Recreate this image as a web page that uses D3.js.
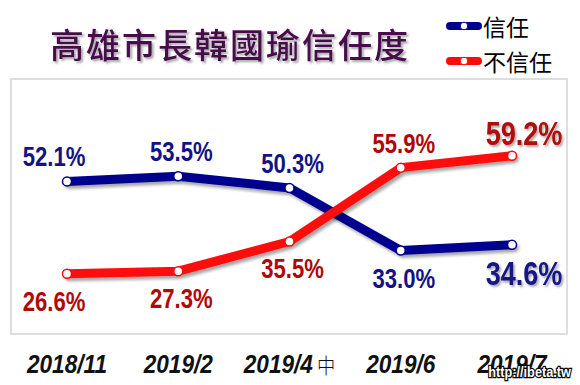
<!DOCTYPE html>
<html>
<head>
<meta charset="utf-8">
<script src="https://cdn.jsdelivr.net/npm/d3@7"></script>
<style>
  body { margin: 0; background: #fff; }
  svg { display: block; }
</style>
</head>
<body>
<div id="vis"></div>
<script>
var w = 580,
    h = 385;

// data
var categories = ["2018/11", "2019/2", "2019/4", "2019/6", "2019/7"];
var catSuffix = ["", "", " 中", "", ""];
var trust = [52.1, 53.5, 50.3, 33.0, 34.6];
var distrust = [26.6, 27.3, 35.5, 55.9, 59.2];
var seriesNames = ["信任", "不信任"];
var title = "高雄市長韓國瑜信任度";

var blue = "#00008f", red = "#ff0a0a";
var blueText = "#131385", redText = "#b00808";
// no narrow face installed, so squeeze Liberation Sans horizontally
var numFont = "'Liberation Sans', Arial, sans-serif";
var squeeze = 0.82;

var svg = d3.select("#vis").append("svg")
    .attr("width", w)
    .attr("height", h);

var defs = svg.append("defs");
var f = defs.append("filter").attr("id", "shadow")
    .attr("x", "-10%").attr("y", "-30%").attr("width", "130%").attr("height", "180%");
f.append("feDropShadow").attr("dx", 2.5).attr("dy", 3).attr("stdDeviation", 1.6)
    .attr("flood-color", "#000").attr("flood-opacity", 0.35);
var ft = defs.append("filter").attr("id", "tshadow");
ft.append("feDropShadow").attr("dx", 2).attr("dy", 2).attr("stdDeviation", 1.2)
    .attr("flood-color", "#000").attr("flood-opacity", 0.35);

// frame
svg.append("rect")
    .attr("x", 11).attr("y", 79)
    .attr("width", 556).attr("height", 255)
    .attr("fill", "#fff")
    .attr("stroke", "#d4d4d4")
    .attr("stroke-width", 1.5);

// title
svg.append("text")
    .attr("x", 50).attr("y", 58)
    .attr("font-family", "'Noto Sans CJK TC', 'Noto Sans CJK SC', sans-serif")
    .attr("font-size", 34)
    .attr("font-weight", 500)
    .attr("letter-spacing", 2)
    .attr("fill", "#47104c")
    .attr("filter", "url(#tshadow)")
    .text(title);

var x = d3.scalePoint().domain(categories).range([67, 512]);
var y = d3.scaleLinear().domain([0, 100]).range([370, 8]);

var line = d3.line()
    .x(function(d, i){ return x(categories[i]); })
    .y(function(d){ return y(d); });

var series = [
    {name: seriesNames[0], values: trust, other: distrust, color: blue, text: blueText},
    {name: seriesNames[1], values: distrust, other: trust, color: red, text: redText}
];

var g = svg.append("g");

series.forEach(function(s){
    g.append("path")
        .datum(s.values)
        .attr("d", line)
        .attr("fill", "none")
        .attr("stroke", s.color)
        .attr("stroke-width", 9)
        .attr("stroke-linejoin", "round")
        .attr("stroke-linecap", "round")
        .attr("filter", "url(#shadow)");
});

series.forEach(function(s){
    g.selectAll(null)
        .data(s.values)
        .enter().append("circle")
        .attr("cx", function(d, i){ return x(categories[i]); })
        .attr("cy", function(d){ return y(d); })
        .attr("r", 4.5)
        .attr("fill", "#fff")
        .attr("stroke", s.color)
        .attr("stroke-width", 1.5);
});

// value labels: above if this series is on top, below otherwise
series.forEach(function(s){
    var n = s.values.length;
    g.selectAll(null)
        .data(s.values)
        .enter().append("text")
        .attr("transform", function(d, i){
            var last = i == n - 1;
            var dx = i == 0 ? -13 : (last ? 12 : 3);
            var above = d > s.other[i];
            var dy = above ? (last ? -11 : -15) : (last ? 40 : 37);
            return "translate(" + (x(categories[i]) + dx) + "," + (y(d) + dy) + ") scale(" + squeeze + ",1)";
        })
        .attr("text-anchor", "middle")
        .attr("font-family", numFont)
        .attr("font-weight", "bold")
        .attr("font-size", function(d, i){ return i == n - 1 ? 33 : 27; })
        .attr("fill", s.text)
        .attr("filter", function(d, i){ return i == n - 1 ? "url(#tshadow)" : null; })
        .text(function(d){ return d.toFixed(1) + "%"; });
});

// x labels
var xl = svg.append("g").selectAll("text")
    .data(categories)
    .enter().append("text")
    .attr("transform", function(d){ return "translate(" + x(d) + ",373) scale(0.87,1)"; })
    .attr("text-anchor", "middle")
    .attr("font-family", numFont)
    .attr("font-weight", "bold")
    .attr("font-style", "italic")
    .attr("font-size", 26)
    .attr("fill", "#111");
xl.append("tspan").text(function(d){ return d; });
xl.append("tspan")
    .attr("font-family", "'Noto Sans CJK TC', sans-serif")
    .attr("font-weight", 300)
    .attr("font-style", "normal")
    .attr("font-size", 21)
    .text(function(d, i){ return catSuffix[i]; });

// legend
var lg = svg.append("g").selectAll("g")
    .data(series)
    .enter().append("g")
    .attr("transform", function(d, i){ return "translate(0," + (26 + i * 35) + ")"; });
lg.append("line")
    .attr("x1", 450).attr("x2", 478)
    .attr("y1", 0).attr("y2", 0)
    .attr("stroke", function(d){ return d.color; })
    .attr("stroke-width", 8)
    .attr("stroke-linecap", "round");
lg.append("circle")
    .attr("cx", 464).attr("cy", 0).attr("r", 3.8)
    .attr("fill", "#fff")
    .attr("stroke", function(d){ return d.color; })
    .attr("stroke-width", 1);
lg.append("text")
    .attr("x", 483).attr("y", 9.5)
    .attr("font-family", "'Noto Sans CJK TC', sans-serif")
    .attr("font-size", 23)
    .attr("fill", "#000")
    .text(function(d){ return d.name; });

// watermark
svg.append("text")
    .attr("transform", "translate(571,377) scale(0.85,1)")
    .attr("text-anchor", "end")
    .attr("font-family", numFont)
    .attr("font-weight", "bold")
    .attr("font-size", 15)
    .attr("fill", "#fff")
    .attr("stroke", "#000")
    .attr("stroke-width", 2.5)
    .attr("paint-order", "stroke")
    .text("http://ibeta.tw");
</script>
</body>
</html>
